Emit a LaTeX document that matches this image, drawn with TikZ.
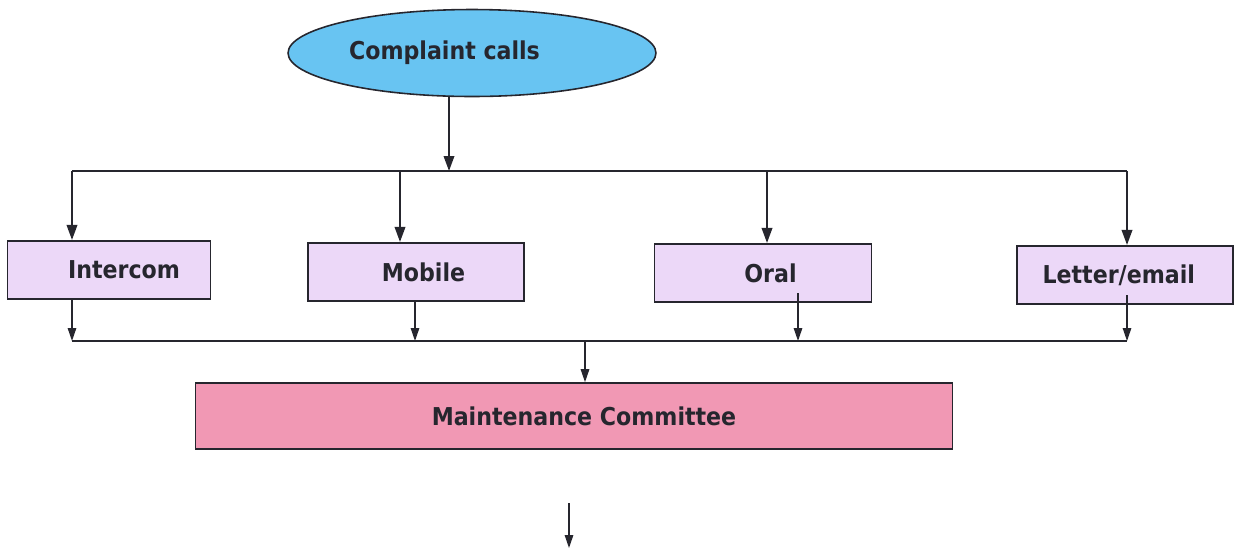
\documentclass[tikz,border=0pt]{standalone}
\usepackage{fontspec}
\setmainfont{DejaVu Sans Condensed}
\usetikzlibrary{shapes.geometric,arrows.meta}

\definecolor{callblue}{RGB}{104,196,242}
\definecolor{lavender}{RGB}{236,216,248}
\definecolor{rosepink}{RGB}{241,152,180}
\definecolor{inkdark}{RGB}{38,38,46}

\begin{document}
\begin{tikzpicture}[
  x=0.02cm, y=-0.02cm,
  font=\fontsize{14}{17}\selectfont\bfseries,
  box/.style={draw=inkdark, line width=0.9pt, fill=lavender, inner sep=0pt, minimum height=1.17cm, text=inkdark},
  arr/.style={-{Triangle[length=0.3cm,width=0.21cm]}, line width=1.1pt, draw=inkdark},
  thinarr/.style={-{Triangle[length=0.26cm,width=0.17cm]}, line width=0.8pt, draw=inkdark}
]
\useasboundingbox (0,0) rectangle (1236,549);

\node[ellipse, draw=inkdark, line width=0.9pt, fill=callblue, inner sep=0pt, minimum width=7.36cm, minimum height=1.74cm, text=inkdark] (calls) at (472,53) {Complaint calls\kern1.1cm};

\node[box, minimum width=4.06cm] (intercom) at (109,270) {\kern0.6cm Intercom};
\node[box, minimum width=4.32cm] (mobile) at (416,272) {\kern0.3cm Mobile};
\node[box, minimum width=4.34cm] (oral) at (763,273) {\kern0.3cm Oral};
\node[box, minimum width=4.32cm] (letter) at (1125,275) {Letter/email\kern0.25cm};

\node[box, fill=rosepink, minimum width=15.14cm, minimum height=1.32cm] (maint) at (574,416) {\kern0.4cm Maintenance Committee};

% upper bus
\coordinate (top) at (449,171);
\coordinate (b1) at (72,171);
\coordinate (b2) at (400,171);
\coordinate (b3) at (767,171);
\coordinate (b4) at (1127,171);

% lower bus
\coordinate (c1) at (72,341);
\coordinate (c2) at (415,341);
\coordinate (c3) at (798,341);
\coordinate (c4) at (1127,341);
\coordinate (mid) at (585,341);

\coordinate (outA) at (569,503);
\coordinate (outB) at (569,548);

\draw[arr] (top |- calls.south) -- (top);
\draw[line width=1.1pt, draw=inkdark] (b1) -- (b4);
\draw[arr] (b1) -- (b1 |- intercom.north);
\draw[arr] (b2) -- (b2 |- mobile.north);
\draw[arr] (b3) -- (b3 |- oral.north);
\draw[arr] (b4) -- (b4 |- letter.north);

\draw[thinarr] (c1 |- intercom.south) -- (c1);
\draw[thinarr] (c2 |- mobile.south) -- (c2);
\draw[thinarr] ([yshift=0.2cm]c3 |- oral.south) -- (c3);
\draw[thinarr] ([yshift=0.2cm]c4 |- letter.south) -- (c4);
\draw[line width=1.1pt, draw=inkdark] (c1) -- (c4);
\draw[thinarr] (mid) -- (mid |- maint.north);

\draw[thinarr] (outA) -- (outB);
\end{tikzpicture}
\end{document}
